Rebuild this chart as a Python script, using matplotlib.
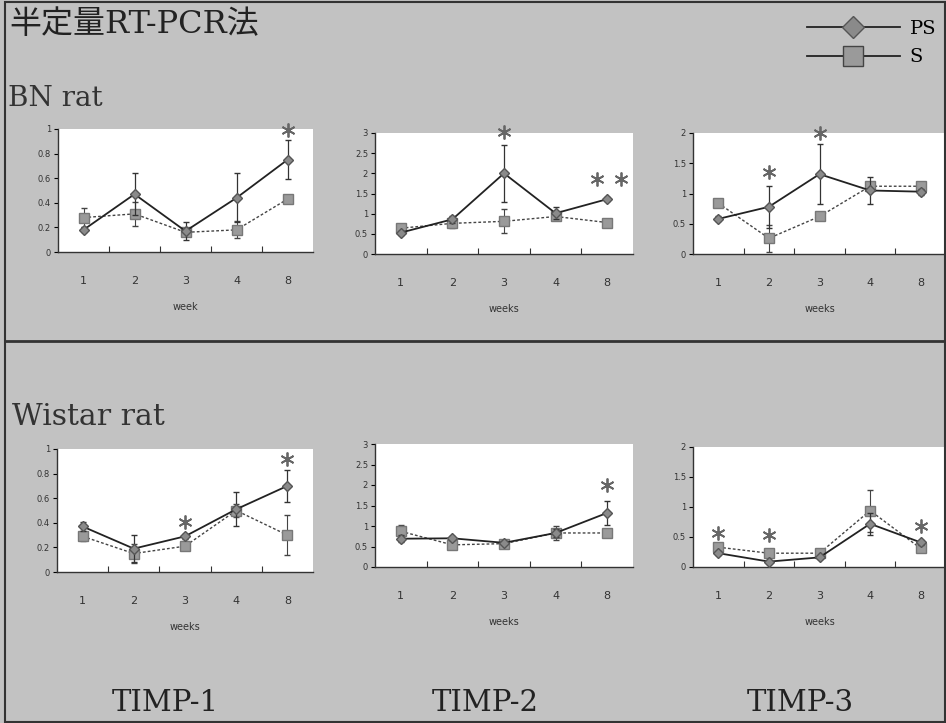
import matplotlib
matplotlib.use("Agg")
import matplotlib.pyplot as plt
from matplotlib.lines import Line2D
from matplotlib.patches import Rectangle
from matplotlib.ticker import FixedLocator, FormatStrFormatter

# --- データ ---
WEEKS = ["1", "2", "3", "4", "8"]

bn_timp1_ps = [0.18, 0.47, 0.17, 0.44, 0.75]
bn_timp1_ps_err = [0.02, 0.17, 0.07, 0.20, 0.16]
bn_timp1_s = [0.28, 0.31, 0.16, 0.18, 0.43]
bn_timp1_s_err = [0.08, 0.10, 0.02, 0.07, 0.02]
bn_timp1_star_x = [5]
bn_timp1_star_y = [0.99]

bn_timp2_ps = [0.53, 0.86, 2.00, 1.01, 1.36]
bn_timp2_ps_err = [0.05, 0.08, 0.71, 0.15, 0.05]
bn_timp2_s = [0.64, 0.76, 0.81, 0.93, 0.78]
bn_timp2_s_err = [0.08, 0.12, 0.30, 0.05, 0.05]
bn_timp2_star_x = [3, 4.8, 5.27]
bn_timp2_star_y = [3.02, 1.85, 1.85]

bn_timp3_ps = [0.58, 0.78, 1.32, 1.05, 1.03]
bn_timp3_ps_err = [0.04, 0.35, 0.50, 0.23, 0.05]
bn_timp3_s = [0.84, 0.26, 0.62, 1.12, 1.12]
bn_timp3_s_err = [0.05, 0.22, 0.05, 0.05, 0.05]
bn_timp3_star_x = [2, 3]
bn_timp3_star_y = [1.36, 2.0]

wi_timp1_ps = [0.37, 0.19, 0.29, 0.51, 0.70]
wi_timp1_ps_err = [0.04, 0.11, 0.02, 0.14, 0.13]
wi_timp1_s = [0.29, 0.15, 0.21, 0.50, 0.30]
wi_timp1_s_err = [0.04, 0.08, 0.02, 0.05, 0.16]
wi_timp1_star_x = [3, 5]
wi_timp1_star_y = [0.41, 0.92]

wi_timp2_ps = [0.69, 0.70, 0.59, 0.83, 1.32]
wi_timp2_ps_err = [0.08, 0.05, 0.04, 0.10, 0.30]
wi_timp2_s = [0.87, 0.54, 0.57, 0.83, 0.83]
wi_timp2_s_err = [0.15, 0.06, 0.05, 0.18, 0.10]
wi_timp2_star_x = [5]
wi_timp2_star_y = [1.99]

wi_timp3_ps = [0.23, 0.09, 0.16, 0.72, 0.41]
wi_timp3_ps_err = [0.03, 0.03, 0.03, 0.18, 0.04]
wi_timp3_s = [0.33, 0.23, 0.23, 0.94, 0.31]
wi_timp3_s_err = [0.04, 0.05, 0.04, 0.35, 0.06]
wi_timp3_star_x = [1, 2, 5]
wi_timp3_star_y = [0.56, 0.54, 0.69]

W, H = 946, 723
BG = "#c2c2c2"
SERIF = ["DejaVu Serif", "Noto Sans CJK JP"]

fig = plt.figure(figsize=(W / 100, H / 100), dpi=100, facecolor=BG)


def px_rect(left, top, right, bottom):
    return [left / W, 1 - bottom / H, (right - left) / W, (bottom - top) / H]


def panel(rect, ps, ps_err, s, s_err, star_x, star_y, ymax, ystep, xlabel):
    ax = fig.add_axes(px_rect(*rect))
    ax.set_facecolor("white")
    x = list(range(1, len(WEEKS) + 1))

    ax.errorbar(x, s, yerr=s_err, color="#444444", lw=1.0, ls=(0, (2, 1.5)),
                marker="s", ms=7, mfc="#9a9a9a", mec="#777777",
                ecolor="#444444", elinewidth=0.8, capsize=2.5, zorder=3)
    ax.errorbar(x, ps, yerr=ps_err, color="#222222", lw=1.3, ls="-",
                marker="D", ms=5.5, mfc="#8a8a8a", mec="#555555",
                ecolor="#333333", elinewidth=0.9, capsize=2.5, zorder=4)
    ax.plot(star_x, star_y, ls="none", marker=(6, 2, 0), ms=10,
            mew=1.3, color="#666666", clip_on=False, zorder=5)

    ax.set_xlim(0.5, len(WEEKS) + 0.5)
    ax.set_ylim(0, ymax)
    ax.set_xticks(x)
    ax.set_xticklabels(WEEKS)
    ax.xaxis.set_minor_locator(FixedLocator([1.5, 2.5, 3.5, 4.5]))
    ax.tick_params(axis="x", which="major", length=0, pad=17, labelsize=8,
                   labelcolor="#333333")
    ax.tick_params(axis="x", which="minor", direction="in", length=4,
                   width=0.8, color="#333333")
    n = int(round(ymax / ystep))
    ax.set_yticks([i * ystep for i in range(n + 1)])
    ax.yaxis.set_major_formatter(FormatStrFormatter("%g"))
    ax.tick_params(axis="y", length=3, width=0.8, labelsize=6,
                   labelcolor="#333333", pad=2)
    ax.set_xlabel(xlabel, fontsize=7, color="#333333", labelpad=12)
    for side in ("top", "right"):
        ax.spines[side].set_visible(False)
    for side in ("left", "bottom"):
        ax.spines[side].set_color("#333333")
        ax.spines[side].set_linewidth(1.0)
    return ax


panel((58, 129, 313, 252), bn_timp1_ps, bn_timp1_ps_err, bn_timp1_s,
      bn_timp1_s_err, bn_timp1_star_x, bn_timp1_star_y, 1.0, 0.2, "week")
panel((375, 133, 633, 254), bn_timp2_ps, bn_timp2_ps_err, bn_timp2_s,
      bn_timp2_s_err, bn_timp2_star_x, bn_timp2_star_y, 3.0, 0.5, "weeks")
panel((693, 133, 946, 254), bn_timp3_ps, bn_timp3_ps_err, bn_timp3_s,
      bn_timp3_s_err, bn_timp3_star_x, bn_timp3_star_y, 2.0, 0.5, "weeks")
panel((57, 449, 313, 572), wi_timp1_ps, wi_timp1_ps_err, wi_timp1_s,
      wi_timp1_s_err, wi_timp1_star_x, wi_timp1_star_y, 1.0, 0.2, "weeks")
panel((375, 444, 633, 567), wi_timp2_ps, wi_timp2_ps_err, wi_timp2_s,
      wi_timp2_s_err, wi_timp2_star_x, wi_timp2_star_y, 3.0, 0.5, "weeks")
panel((693, 447, 946, 567), wi_timp3_ps, wi_timp3_ps_err, wi_timp3_s,
      wi_timp3_s_err, wi_timp3_star_x, wi_timp3_star_y, 2.0, 0.5, "weeks")

# --- 枠と区切り線 ---
fig.patches.append(Rectangle((5 / W, 0.002), (W - 6) / W, 1 - 2 / H - 0.002,
                             transform=fig.transFigure, fill=False,
                             ec="#333333", lw=1.5, zorder=0))
fig.lines.append(Line2D([5 / W, 1], [1 - 341 / H] * 2, transform=fig.transFigure,
                        color="#333333", lw=2))

# --- テキスト ---
fig.text(9 / W, 1 - 25 / H, "半定量RT-PCR法", family=SERIF, fontsize=23,
         va="center", ha="left", color="#222222")
fig.text(8 / W, 1 - 98 / H, "BN rat", family=SERIF, fontsize=20,
         va="center", ha="left", color="#333333")
fig.text(12 / W, 1 - 417 / H, "Wistar rat", family=SERIF, fontsize=21.5,
         va="center", ha="left", color="#333333")
for label, cx in zip(["TIMP-1", "TIMP-2", "TIMP-3"], [165, 485, 800]):
    fig.text(cx / W, 1 - 703 / H, label, family=SERIF, fontsize=21,
             va="center", ha="center", color="#222222")

# --- 凡例 ---
handles = [
    Line2D([], [], color="#222222", lw=1.3, marker="D", ms=11,
           mfc="#8a8a8a", mec="#555555"),
    Line2D([], [], color="#222222", lw=1.3, marker="s", ms=14,
           mfc="#9a9a9a", mec="#444444"),
]
fig.legend(handles, ["PS", "S"], loc="upper right",
           bbox_to_anchor=(1.0, 1 - 10 / H), frameon=False, numpoints=1,
           handlelength=4.8, handletextpad=0.5, labelspacing=0.55,
           borderaxespad=0.1, prop={"family": SERIF, "size": 14})

fig.savefig("out.png", dpi=100, facecolor=BG)
